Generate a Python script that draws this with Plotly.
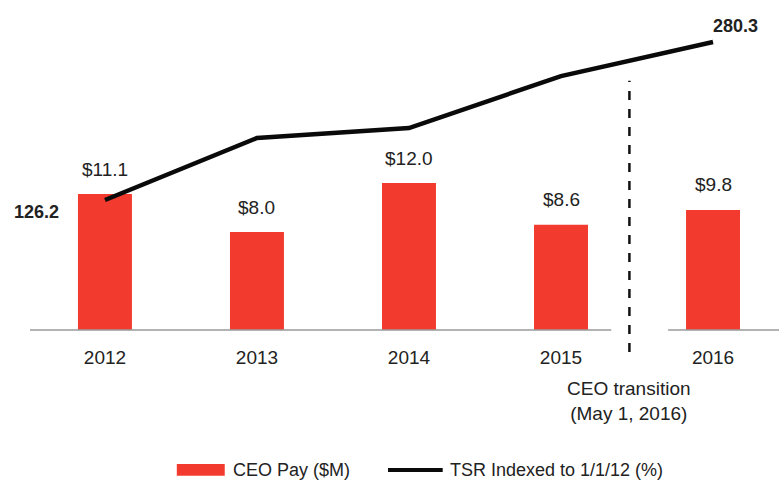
import plotly.graph_objects as go

years = [2012, 2013, 2014, 2015, 2016]
year_labels = ["2012", "2013", "2014", "2015", "2016"]
ceo_pay = [11.1, 8.0, 12.0, 8.6, 9.8]
pay_labels = ["$11.1", "$8.0", "$12.0", "$8.6", "$9.8"]
tsr = [126.2, 186.7, 196.4, 247.1, 280.3]
transition_x = 2015.45
transition_text = "CEO transition<br>(May 1, 2016)"

RED = "#F23B2E"
FONT = "Liberation Sans, Arial, sans-serif"
TXT = "#222"

fig = go.Figure()
fig.add_trace(go.Bar(x=years, y=ceo_pay, width=0.355, marker=dict(color=RED, line=dict(width=0)),
                     name="CEO Pay ($M)", showlegend=False, hoverinfo="skip"))
fig.add_trace(go.Scatter(x=years, y=tsr, yaxis="y2", mode="lines",
                         line=dict(color="#0a0a0a", width=4.5),
                         name="TSR Indexed to 1/1/12 (%)", showlegend=False))

# bar value labels
for x, v, t in zip(years, ceo_pay, pay_labels):
    fig.add_annotation(x=x, y=v, text=t, showarrow=False, yanchor="middle", yshift=25,
                       font=dict(size=19, color=TXT))

# first / last TSR labels
fig.add_annotation(x=years[0], y=tsr[0], yref="y2", text=f"<b>{tsr[0]}</b>", showarrow=False,
                   xanchor="right", yanchor="middle", xshift=-44, yshift=-12, font=dict(size=18, color=TXT))
fig.add_annotation(x=years[-1], y=tsr[-1], yref="y2", text=f"<b>{tsr[-1]}</b>", showarrow=False,
                   xanchor="left", yanchor="middle", xshift=-2, yshift=16, font=dict(size=18, color=TXT))

# CEO transition marker
fig.add_shape(type="line", xref="x", yref="paper", x0=transition_x, x1=transition_x,
              y0=-0.067, y1=0.755, line=dict(color="#111", width=2.5, dash="dash"))
fig.add_annotation(x=transition_x, xref="x", yref="paper", y=-0.215, yanchor="middle",
                   text=transition_text, showarrow=False, font=dict(size=19, color=TXT), align="center")

# baseline with a gap at the transition
fig.add_shape(type="line", xref="paper", yref="paper", x0=0, x1=0.776, y0=0, y1=0,
              line=dict(color="#9a9a9a", width=1.5))
fig.add_shape(type="line", xref="paper", yref="paper", x0=0.852, x1=1, y0=0, y1=0,
              line=dict(color="#9a9a9a", width=1.5))

# legend
fig.add_shape(type="rect", xref="paper", yref="paper", x0=0.196, x1=0.260, y0=-0.442, y1=-0.406,
              line=dict(width=0), fillcolor=RED)
fig.add_annotation(xref="paper", yref="paper", x=0.269, y=-0.424, text="CEO Pay ($M)", showarrow=False,
                   xanchor="left", yanchor="middle", font=dict(size=18, color=TXT))
fig.add_shape(type="line", xref="paper", yref="paper", x0=0.478, x1=0.551, y0=-0.424, y1=-0.424,
              line=dict(color="#0a0a0a", width=4))
fig.add_annotation(xref="paper", yref="paper", x=0.558, y=-0.424, text="TSR Indexed to 1/1/12 (%)",
                   showarrow=False, xanchor="left", yanchor="middle", font=dict(size=18, color=TXT))

fig.update_layout(
    width=779, height=480,
    margin=dict(l=30, r=0, t=0, b=150),
    plot_bgcolor="white", paper_bgcolor="white",
    font=dict(family=FONT, size=19, color=TXT),
    xaxis=dict(range=[2011.507, 2016.434], tickvals=years, ticktext=year_labels,
               showgrid=False, zeroline=False, showline=False, tickfont=dict(size=19),
               ticks="outside", ticklen=10, tickcolor="rgba(0,0,0,0)"),
    yaxis=dict(range=[0, 26.94], visible=False, showgrid=False),
    yaxis2=dict(range=[-0.6, 321.3], overlaying="y", visible=False, showgrid=False),
    showlegend=False,
)

fig.write_html("out.html", config={"displayModeBar": False},
               post_script="document.body.style.margin='0';")
